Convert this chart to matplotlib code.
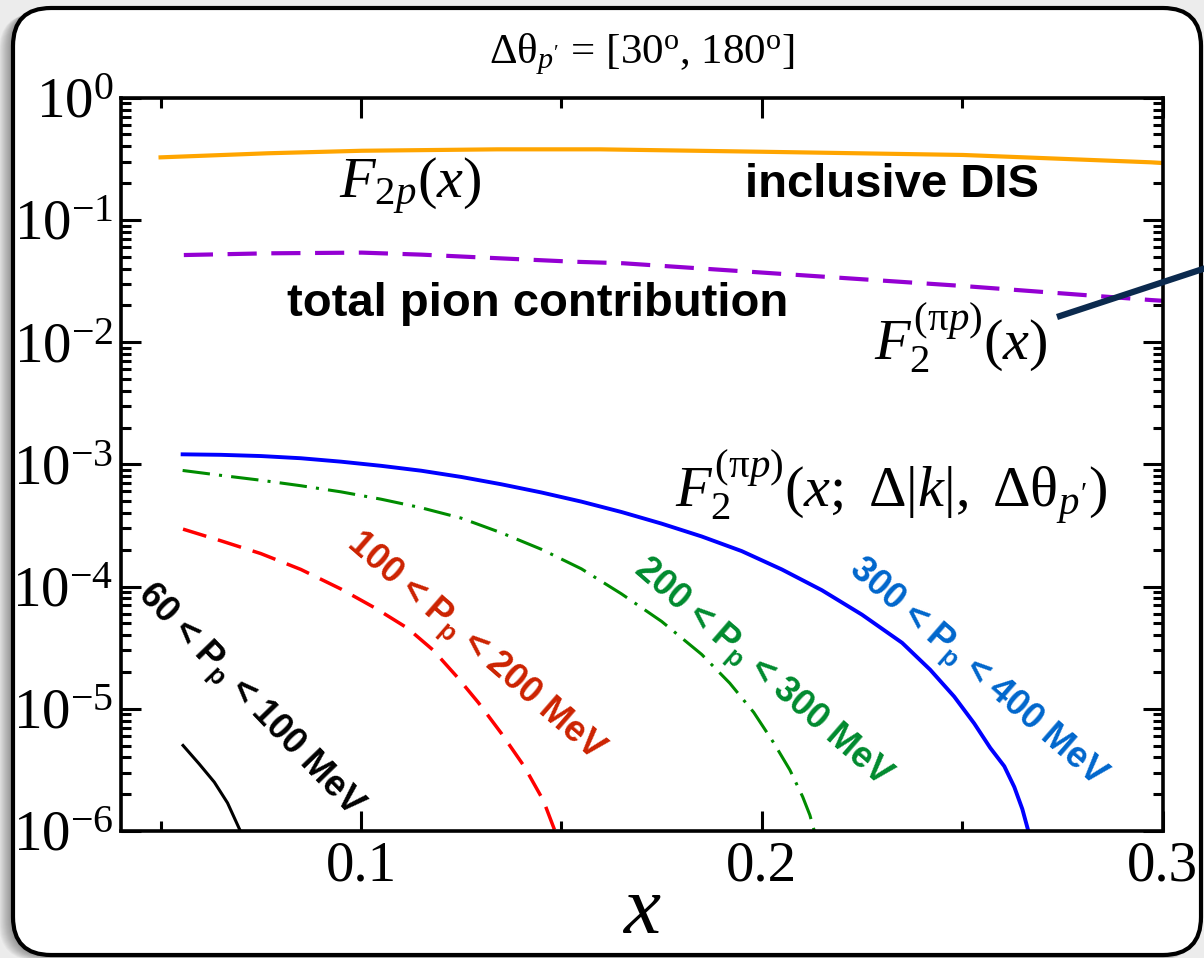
import math
import matplotlib
matplotlib.use('Agg')
import matplotlib.pyplot as plt
from matplotlib.patches import FancyBboxPatch
from matplotlib.lines import Line2D
from matplotlib.ticker import MultipleLocator, LogLocator, FixedLocator, FuncFormatter, NullFormatter
from matplotlib.transforms import IdentityTransform

plt.rcParams['font.family'] = ['Liberation Serif', 'DejaVu Serif']
plt.rcParams['mathtext.fontset'] = 'custom'
plt.rcParams['mathtext.rm'] = 'Liberation Serif'
plt.rcParams['mathtext.it'] = 'Liberation Serif:italic'
plt.rcParams['mathtext.bf'] = 'Liberation Sans:bold'
plt.rcParams['mathtext.sf'] = 'Liberation Sans'

# ---- data ----
y_decades = [1e-6, 1e-5, 1e-4, 1e-3, 1e-2, 1e-1, 1e0]

x_f2p = [0.050, 0.0768, 0.1002, 0.134, 0.1596, 0.2005, 0.2502, 0.2971, 0.300]
f2p = [0.325, 0.351, 0.368, 0.378, 0.378, 0.361, 0.340, 0.296, 0.292]

x_pion = [0.0558, 0.0768, 0.1002, 0.115, 0.130, 0.153, 0.1654, 0.2005, 0.2502, 0.2971, 0.300]
pion = [0.0516, 0.0533, 0.0540, 0.0520, 0.0493, 0.0455, 0.0442, 0.0370, 0.0288, 0.0221, 0.0218]

# 300 < Pp < 400 MeV (log10 values)
x_300 = [0.0555, 0.065, 0.075, 0.085, 0.095, 0.105, 0.115, 0.125, 0.135, 0.145, 0.155, 0.165,
         0.175, 0.185, 0.195, 0.205, 0.215, 0.225, 0.235, 0.242, 0.248, 0.253, 0.257, 0.2605,
         0.263, 0.265, 0.2665]
lg_300 = [-2.918, -2.922, -2.932, -2.950, -2.978, -3.012, -3.052, -3.103, -3.163, -3.230, -3.305,
          -3.390, -3.485, -3.590, -3.710, -3.860, -4.030, -4.230, -4.460, -4.680, -4.900, -5.120,
          -5.320, -5.470, -5.640, -5.820, -6.000]

# 200 < Pp < 300 MeV
x_200 = [0.0555, 0.065, 0.075, 0.085, 0.095, 0.105, 0.115, 0.125, 0.135, 0.145, 0.155, 0.165,
         0.175, 0.185, 0.192, 0.198, 0.203, 0.207, 0.2102, 0.212, 0.2131]
lg_200 = [-3.050, -3.090, -3.130, -3.175, -3.225, -3.285, -3.355, -3.440, -3.560, -3.695, -3.855,
          -4.060, -4.285, -4.555, -4.790, -5.030, -5.280, -5.500, -5.720, -5.870, -6.000]

# 100 < Pp < 200 MeV
x_100 = [0.0556, 0.065, 0.075, 0.085, 0.095, 0.1035, 0.1116, 0.118, 0.124, 0.1293, 0.135, 0.1407,
         0.1455, 0.1484]
lg_100 = [-3.530, -3.625, -3.730, -3.860, -4.020, -4.175, -4.340, -4.520, -4.740, -4.950, -5.200,
          -5.470, -5.750, -6.000]

# 60 < Pp < 100 MeV
x_60 = [0.0556, 0.0596, 0.0634, 0.0667, 0.0699]
lg_60 = [-5.30, -5.45, -5.60, -5.77, -6.00]

W, H = 1204, 958
fig = plt.figure(figsize=(W / 100, H / 100), dpi=100)
fig.patch.set_facecolor('#ececec')

# drop shadow + rounded frame (pixel coordinates)
for k in range(14, 0, -1):
    sh = FancyBboxPatch((13 - k, 3 - k * 0.4), 1188 + k * 0.6, 947, boxstyle='round,pad=0,rounding_size=38',
                        transform=IdentityTransform(), facecolor='black', edgecolor='none',
                        alpha=0.03, zorder=-6)
    fig.add_artist(sh)
frame = FancyBboxPatch((13, 3), 1188, 947, boxstyle='round,pad=0,rounding_size=38',
                       transform=IdentityTransform(), facecolor='white', edgecolor='black',
                       linewidth=3, zorder=-5)
fig.add_artist(frame)

ax = fig.add_axes([120.5 / W, 1 - 831 / H, (1162.6 - 120.5) / W, (831 - 97.7) / H])


def pw(lg):
    return [10 ** v for v in lg]


ax.plot(x_f2p, f2p, color='#ffa500', lw=3)
ax.plot(x_pion, pion, color='#9400d3', lw=3, dashes=(7, 3.5))
ax.plot(x_300, pw(lg_300), color='#0000ff', lw=2.8)
ax.plot(x_200, pw(lg_200), color='#008c00', lw=2.2, dashes=(9, 3, 1, 3))
ax.plot(x_100, pw(lg_100), color='#ff0000', lw=2.5, dashes=(7, 3.5))
ax.plot(x_60, pw(lg_60), color='black', lw=2.2)

ax.set_yscale('log')
ax.set_xlim(0.04, 0.3)
ax.set_ylim(1e-6, 1)
ax.xaxis.set_major_locator(MultipleLocator(0.1))
ax.xaxis.set_minor_locator(MultipleLocator(0.05))
ax.xaxis.set_major_formatter(FuncFormatter(lambda v, p: f'{v:.1f}'))
ax.yaxis.set_major_locator(FixedLocator(y_decades))
ax.yaxis.set_minor_locator(LogLocator(base=10, subs=range(2, 10), numticks=20))
ax.yaxis.set_minor_formatter(NullFormatter())
ax.yaxis.set_major_formatter(FuncFormatter(lambda v, p: r'$\mathrm{10^{%d}}$' % round(math.log10(v))))
ax.tick_params(which='both', direction='in', top=True, right=True, width=2.2, labelsize=41)
ax.tick_params(which='major', length=14.5)
ax.tick_params(which='minor', length=7.2)
ax.tick_params(axis='y', pad=5)
ax.tick_params(axis='x', pad=7)
for s in ax.spines.values():
    s.set_linewidth(2.6)

ax.set_xlabel('$x$', fontsize=60)
ax.xaxis.set_label_coords(0.5, -0.139)
ax.xaxis.label.set_va('baseline')

# title
fig.text((120.5 + 1162.6) / 2 / W, 1 - 63 / H, "Δθ$_{p'}$ = [30$^{\mathrm{o}}$, 180$^{\mathrm{o}}$]",
         ha='center', va='baseline', fontsize=31)

# curve annotations
ax.text(0.210, 0.863, r'$F_{2p}(x)$', transform=ax.transAxes, fontsize=42, va='baseline')
ax.text(0.5993, 0.8649, 'inclusive DIS', transform=ax.transAxes, fontsize=34,
        family='Liberation Sans', weight='bold', va='baseline')
ax.text(0.1598, 0.702, 'total pion contribution', transform=ax.transAxes, fontsize=34,
        family='Liberation Sans', weight='bold', va='baseline')
ax.text(0.723, 0.642, r'$F_2^{(\mathrm{\pi}p)}(x)$', transform=ax.transAxes, fontsize=42, va='baseline')
ax.text(0.532, 0.4405, r"$F_2^{(\mathrm{\pi}p)}(x;\ \Delta|k|,\ \Delta\mathrm{\theta}_{p'})$",
        transform=ax.transAxes, fontsize=42, va='baseline')

labels = [
    (0.1233, 0.177, -46, 'black', r'60 < $\mathbf{P_p}$ < 100 MeV'),
    (0.3402, 0.2496, -41, '#cc2200', r'100 < $\mathbf{P_p}$ < 200 MeV'),
    (0.6157, 0.2141, -41, '#008a2e', r'200 < $\mathbf{P_p}$ < 300 MeV'),
    (0.8219, 0.2141, -41, '#0066cc', r'300 < $\mathbf{P_p}$ < 400 MeV'),
]
for lx, ly, rot, col, txt in labels:
    ax.text(lx, ly, txt, transform=ax.transAxes, fontsize=26, family='Liberation Sans',
            weight='bold', color=col, rotation=rot, rotation_mode='anchor',
            ha='center', va='center')

# pointer line leaving the frame
fig.add_artist(Line2D([1057 / W, 1215 / W], [1 - 317 / H, 1 - 265 / H], transform=fig.transFigure,
                      color='#0b2a4e', lw=4.5, solid_capstyle='butt', zorder=5))

fig.savefig('out.png', dpi=100)
